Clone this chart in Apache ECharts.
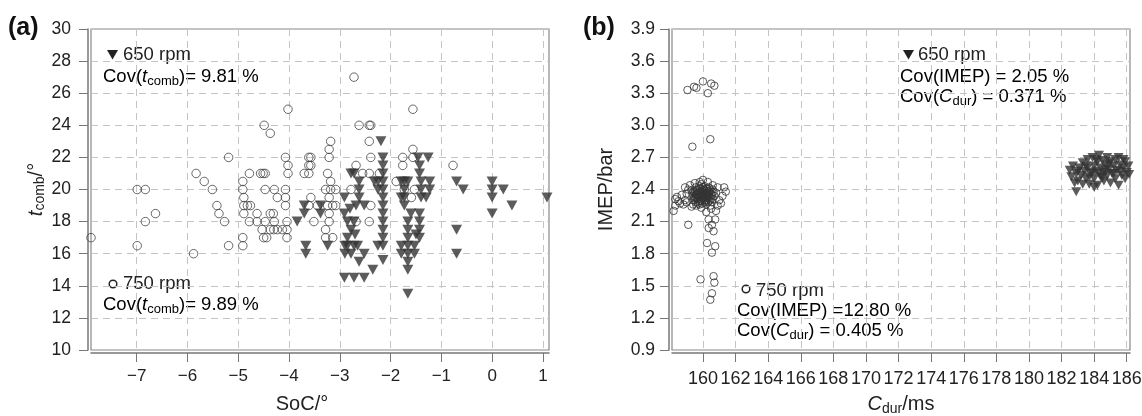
<!DOCTYPE html>
<html><head><meta charset="utf-8">
<script src="https://cdn.jsdelivr.net/npm/echarts@6/dist/echarts.min.js"></script>
<style>html,body{margin:0;padding:0;background:#fff}#c{width:1142px;height:416px}</style>
</head><body><div id="c"></div>
<script>
// ---------- Panel (a): SoC vs t_comb ----------
const socTicks = [-7, -6, -5, -4, -3, -2, -1, 0, 1];
const tcombTicks = [10, 12, 14, 16, 18, 20, 22, 24, 26, 28, 30];
const left750 = [
  [-7.9,17],[-6.99,20],[-6.83,20],[-6.63,18.5],[-6.83,18],[-6.99,16.5],[-5.88,16],
  [-5.83,21],[-5.67,20.5],[-5.51,20],[-5.19,22],[-5.42,19],[-5.38,18.5],[-5.27,18],[-5.19,16.5],
  [-4.91,20.5],[-4.91,20],[-4.78,21],[-4.56,21],[-4.51,21],[-4.47,21],[-4.89,19.5],[-4.89,19],[-4.82,19],
  [-4.76,19],[-4.89,18.5],[-4.63,18.5],[-4.47,20],[-4.29,20],[-4.23,19.5],[-4.07,20],[-4.07,19.5],[-4.07,19],
  [-4.37,18.5],[-4.31,18.5],[-4.78,18],[-4.63,18],[-4.47,18],[-4.29,18],[-4.04,18],[-4.53,17.5],[-4.37,17.5],
  [-4.3,17.5],[-4.23,17.5],[-4.13,17.5],[-4.04,17.5],[-4.5,17],[-4.44,17],[-4.04,17],[-4.91,17],[-4.91,16.5],
  [-4.02,25],[-4.49,24],[-4.37,23.5],[-4.07,22],[-4.02,21.5],[-4.02,21],
  [-3.7,21],[-3.61,21],[-3.61,21.5],[-3.61,22],[-3.57,22],[-3.57,21.5],[-3.24,21],[-3.18,20.5],[-3.28,20],
  [-3.18,20],[-3.08,20],[-3.57,19.5],[-3.21,19.5],[-3.61,19],[-3.44,19],[-3.24,19],[-3.14,19],[-3.08,19],
  [-3.21,18.5],[-3.51,18],[-3.21,18],[-3.28,17.5],[-3.28,17],[-3.14,17],[-3.18,23],[-3.21,22.5],[-3.21,22],
  [-2.72,27],[-2.62,24],[-2.42,24],[-2.39,24],[-2.42,23],[-2.68,21.5],[-2.55,21],[-2.42,21],[-2.22,21],
  [-2.39,22],[-2.78,20],[-2.39,19],[-2.42,18],[-2.68,18],
  [-1.56,25],[-1.89,20.5],[-1.76,22],[-1.76,21.5],[-1.56,22.5],[-1.56,22],[-1.73,20],[-1.53,20],[-1.59,19.5],
  [-0.77,21.5]
];
const left650 = [
  [-3.7,19],[-3.84,18],[-3.67,16.5],[-3.67,16],[-3.7,18.5],[-3.38,19],[-3.38,18.5],[-3.24,16.5],
  [-2.91,19.5],[-2.91,18.5],[-2.85,18],[-2.72,18],[-2.78,17.5],[-2.85,17],[-2.9,16.5],[-2.85,16.5],
  [-2.72,16.5],[-2.65,16.5],[-2.9,16],[-2.78,16],[-2.72,21],[-2.78,21],[-2.62,20.5],[-2.62,20],[-2.62,19.5],
  [-2.68,19],[-2.52,19],[-2.52,16],[-2.62,15.5],[-2.35,15],[-2.91,14.5],[-2.72,14.5],[-2.52,14.5],
  [-2.8,18.8],[-2.7,17.2],
  [-2.19,23],[-2.15,22],[-2.15,21.5],[-2.15,21],[-2.15,20.5],[-2.15,20],[-2.15,19.5],[-2.15,19],[-2.15,18.5],
  [-2.15,18],[-2.15,17.5],[-2.15,17],[-2.15,16.5],[-2.25,20.5],[-2.25,20],[-2.25,16.5],[-2.15,15.6],[-2.32,20.5],
  [-1.73,20.5],[-1.73,20],[-1.73,19.5],[-1.73,19],[-1.79,20.5],[-1.79,19.5],[-1.66,20.5],[-1.66,18],[-1.66,17.5],
  [-1.66,17],[-1.66,16.5],[-1.66,16],[-1.66,15.5],[-1.66,15],[-1.66,13.5],[-1.79,16.5],[-1.53,16.5],[-1.79,16],
  [-1.53,16],[-1.6,18.5],[-1.5,17.2],
  [-1.46,22],[-1.26,22],[-1.43,21.5],[-1.43,21],[-1.4,20.5],[-1.4,20],[-1.4,19.5],[-1.23,20.5],[-1.23,20],
  [-1.43,18.5],[-1.43,18],[-1.43,17.5],[-1.43,17],[-1.3,19.5],
  [-0.7,20.5],[-0.57,20],[-0.7,17.5],[-0.7,16],[0,20.5],[0,20],[0,19.5],[0.22,20],[0.39,19],[0,18.5],[1.08,19.5]
];

// ---------- Panel (b): C_dur vs IMEP ----------
const cdurTicks = [160,162,164,166,168,170,172,174,176,178,180,182,184,186];
const imepTicks = [0.9,1.2,1.5,1.8,2.1,2.4,2.7,3.0,3.3,3.6,3.9];
const right750 = [
  [159.05,3.33],[159.45,3.36],[159.6,3.35],[160.0,3.41],[160.3,3.30],[160.5,3.39],[160.7,3.37],[159.35,2.80],[160.45,2.87],
  [159.1,2.07],[160.35,2.12],[160.55,2.07],[160.75,2.12],[160.35,2.04],[160.65,2.01],[160.25,1.90],[160.75,1.87],
  [160.55,1.81],[159.85,1.56],[160.65,1.59],[160.7,1.53],[160.55,1.43],[160.45,1.37],
  [158.2,2.2],[158.3,2.25],[158.5,2.29],[158.4,2.33],[158.7,2.35],[158.9,2.3],[158.6,2.27],[158.8,2.26],[159.0,2.28],[158.3,2.31],
  [158.9,2.42],[159.2,2.44],[159.5,2.46],[159.8,2.47],[160.0,2.49],[160.3,2.47],[160.6,2.44],[160.9,2.42],[161.4,2.38],
  [161.2,2.34],[161.0,2.3],[160.9,2.25],[160.8,2.2],[160.5,2.22],[160.2,2.19],[159.9,2.23],[159.6,2.25],[159.3,2.24],
  [161.1,2.27],[161.3,2.42],[159.0,2.36],[159.1,2.4],
  [159.4,2.30],[159.5,2.33],[159.6,2.36],[159.7,2.31],[159.8,2.34],[159.9,2.38],[160.0,2.32],[160.1,2.35],[160.2,2.30],
  [160.3,2.37],[160.4,2.33],[160.5,2.36],[160.6,2.31],[159.45,2.38],[159.55,2.28],[159.65,2.40],[159.75,2.29],
  [159.85,2.41],[159.95,2.27],[160.05,2.40],[160.15,2.28],[160.25,2.41],[160.35,2.29],[160.45,2.39],[160.55,2.28],
  [160.65,2.38],[159.35,2.34],[159.5,2.37],[159.7,2.35],[159.9,2.31],[160.1,2.39],[160.3,2.33],[160.5,2.32],
  [159.6,2.32],[159.8,2.38],[160.0,2.36],[160.2,2.34],[160.4,2.37],[159.75,2.43],[160.1,2.43],[160.35,2.42],
  [159.55,2.42],[159.9,2.45],[160.2,2.26],[159.8,2.26],[160.45,2.25],[159.4,2.26],[160.7,2.34],[159.3,2.39],[160.8,2.37],
  [159.45,2.32],[159.55,2.35],[159.65,2.33],[159.75,2.37],[159.85,2.30],[159.95,2.34],[160.05,2.37],[160.15,2.32],
  [160.25,2.36],[160.35,2.34],[160.45,2.30],[160.55,2.35],[159.6,2.39],[159.7,2.27],[159.8,2.41],[159.9,2.29],
  [160.0,2.42],[160.1,2.30],[160.2,2.39],[160.3,2.28],[160.4,2.41],[159.5,2.30],[160.6,2.40],[159.35,2.37],
  [159.65,2.36],[159.85,2.36],[160.05,2.33],[160.25,2.32],[160.15,2.36],[159.95,2.39],[159.75,2.33],[160.35,2.38]
];
const right650 = [
  [182.5,2.58],[182.6,2.52],[182.7,2.62],[182.9,2.55],[182.9,2.38],[183.0,2.48],[183.1,2.6],[183.2,2.53],[183.3,2.65],
  [183.4,2.57],[183.5,2.5],[183.6,2.68],[183.6,2.6],[183.7,2.45],[183.8,2.55],[183.9,2.7],[184.0,2.62],[184.0,2.5],
  [184.1,2.57],[184.2,2.66],[184.2,2.44],[184.3,2.72],[184.4,2.6],[184.4,2.52],[184.5,2.67],[184.6,2.56],[184.6,2.48],
  [184.7,2.63],[184.8,2.7],[184.8,2.53],[184.9,2.59],[185.0,2.66],[185.0,2.46],[185.1,2.55],[185.2,2.62],[185.3,2.5],
  [185.3,2.68],[185.4,2.58],[185.5,2.7],[185.5,2.44],[185.6,2.63],[185.7,2.53],[185.8,2.6],[185.9,2.66],[185.9,2.5],
  [186.0,2.56],[186.1,2.62],[186.15,2.54],[183.3,2.45],[184.0,2.42],[182.8,2.46],[183.9,2.56],[184.9,2.64],[185.6,2.57],[184.3,2.55],
  [183.0,2.57],[183.5,2.62],[184.1,2.68],[184.7,2.58],[185.2,2.55],[185.8,2.68],[183.7,2.52],[184.5,2.51]
];

const FONT = '"Liberation Sans", Arial, Helvetica, sans-serif';
const TXT = '#222';
const AX = '#777';

function fmtNum(v, dec) {
  const s = Math.abs(v).toFixed(dec);
  return (v < -1e-9 ? '\u2212' : '') + s;
}
function onTicks(ticks, dec) {
  return function (v) {
    for (const t of ticks) if (Math.abs(t - v) < 1e-6) return fmtNum(t, dec);
    return '';
  };
}

const rich = {
  n: { fontSize: 18.5, fontFamily: FONT, color: TXT, lineHeight: 21 },
  i: { fontSize: 18.5, fontFamily: FONT, color: TXT, fontStyle: 'italic', lineHeight: 21 },
  s: { fontSize: 13, fontFamily: FONT, color: TXT, lineHeight: 7, verticalAlign: 'bottom' }
};
const richName = {
  n: { fontSize: 20, fontFamily: FONT, color: TXT, lineHeight: 23 },
  i: { fontSize: 20, fontFamily: FONT, color: TXT, fontStyle: 'italic', lineHeight: 23 },
  s: { fontSize: 14, fontFamily: FONT, color: TXT, lineHeight: 8, verticalAlign: 'bottom' }
};

function xAxisCfg(grid, min, max, ticks, name, margin, fs, namePad) {
  return {
    gridIndex: grid, type: 'value', min: min, max: max, offset: 3,
    axisLine: { show: true, onZero: false, lineStyle: { color: AX, width: 1.5 } },
    axisTick: { show: true, length: 9, customValues: ticks, lineStyle: { color: AX, width: 1 } },
    axisLabel: { fontSize: fs, fontFamily: FONT, color: TXT, margin: margin, customValues: ticks, hideOverlap: false,
                 formatter: onTicks(ticks, 0) },
    splitLine: { show: true, lineStyle: { color: '#c4c4c4', type: [7, 5], width: 1 } },
    name: name, nameLocation: 'middle', nameGap: 40,
    nameTextStyle: { fontSize: 20, fontFamily: FONT, color: TXT, rich: richName, padding: namePad }
  };
}
function yAxisCfg(grid, min, max, interval, ticks, dec, name, gap, margin) {
  return {
    gridIndex: grid, type: 'value', min: min, max: max, interval: interval, offset: 3,
    axisLine: { show: true, onZero: false, lineStyle: { color: AX, width: 1.5 } },
    axisTick: { show: true, length: 9, lineStyle: { color: AX, width: 1 } },
    axisLabel: { fontSize: 17.5, fontFamily: FONT, color: TXT, margin: margin, formatter: onTicks(ticks, dec) },
    splitLine: { show: true, lineStyle: { color: '#c4c4c4', type: [7, 5], width: 1 } },
    name: name, nameLocation: 'middle', nameGap: gap, nameRotate: 90,
    nameTextStyle: { fontSize: 20, fontFamily: FONT, color: TXT, rich: richName }
  };
}

const option = {
  animation: false,
  backgroundColor: '#fff',
  grid: [
    { left: 91, right: 1142 - 549, top: 29, bottom: 416 - 350, show: true, borderColor: '#888', borderWidth: 1.2,
      containLabel: false, outerBoundsMode: 'none' },
    { left: 672, right: 1142 - 1130, top: 29, bottom: 416 - 350, show: true, borderColor: '#888', borderWidth: 1.2,
      containLabel: false, outerBoundsMode: 'none' }
  ],
  xAxis: [
    xAxisCfg(0, -7.9, 1.12, socTicks, '{n|SoC/°}', 15, 17, [0, 36, 0, 0]),
    xAxisCfg(1, 158.1, 186.2, cdurTicks, '{i|C}{s|dur}{n|/ms}', 17, 18, 0)
  ],
  yAxis: [
    yAxisCfg(0, 10, 30, 2, tcombTicks, 0, '{i|t}{s|comb}{n|/°}', 36, 17),
    yAxisCfg(1, 0.9, 3.9, 0.3, imepTicks, 1, '{n|IMEP/bar}', 51, 14)
  ],
  series: [
    { type: 'scatter', xAxisIndex: 0, yAxisIndex: 0, data: left750, symbol: 'circle', symbolSize: 8.5,
      itemStyle: { color: 'rgba(255,255,255,0)', borderColor: '#444', borderWidth: 1 } },
    { type: 'scatter', xAxisIndex: 0, yAxisIndex: 0, data: left650, symbol: 'triangle', symbolRotate: 180, symbolSize: [11, 10],
      itemStyle: { color: '#333' } },
    { type: 'scatter', xAxisIndex: 1, yAxisIndex: 1, data: right750, symbol: 'circle', symbolSize: 7.5,
      itemStyle: { color: 'rgba(255,255,255,0)', borderColor: '#333', borderWidth: 1 } },
    { type: 'scatter', xAxisIndex: 1, yAxisIndex: 1, data: right650, symbol: 'triangle', symbolRotate: 180, symbolSize: [10, 9],
      itemStyle: { color: '#333' } }
  ],
  graphic: [
    { type: 'text', x: 8, y: 28, style: { text: '(a)', font: 'bold 25px ' + FONT, fill: '#111', verticalAlign: 'middle' } },
    { type: 'text', x: 583, y: 28, style: { text: '(b)', font: 'bold 25px ' + FONT, fill: '#111', verticalAlign: 'middle' } },
    // panel a annotations
    { type: 'polygon', shape: { points: [[107, 50], [118, 50], [112.5, 59.5]] }, style: { fill: '#222' } },
    { type: 'text', x: 123, y: 55, style: { text: '650 rpm', font: '18.5px ' + FONT, fill: TXT, verticalAlign: 'middle' } },
    { type: 'text', x: 103, y: 77, style: { text: '{n|Cov(}{i|t}{s|comb}{n|)= 9.81 %}', rich: rich, verticalAlign: 'middle' } },
    { type: 'circle', shape: { cx: 113, cy: 284, r: 3.8 }, style: { fill: 'none', stroke: '#222', lineWidth: 1.5 } },
    { type: 'text', x: 123, y: 284, style: { text: '750 rpm', font: '18.5px ' + FONT, fill: TXT, verticalAlign: 'middle' } },
    { type: 'text', x: 103, y: 305, style: { text: '{n|Cov(}{i|t}{s|comb}{n|)= 9.89 %}', rich: rich, verticalAlign: 'middle' } },
    // panel b annotations
    { type: 'polygon', shape: { points: [[903, 50], [914, 50], [908.5, 59.5]] }, style: { fill: '#222' } },
    { type: 'text', x: 918, y: 55, style: { text: '650 rpm', font: '18.5px ' + FONT, fill: TXT, verticalAlign: 'middle' } },
    { type: 'text', x: 900, y: 77, style: { text: '{n|Cov(IMEP) = 2.05 %}', rich: rich, verticalAlign: 'middle' } },
    { type: 'text', x: 900, y: 97, style: { text: '{n|Cov(}{i|C}{s|dur}{n|) = 0.371 %}', rich: rich, verticalAlign: 'middle' } },
    { type: 'circle', shape: { cx: 746, cy: 289, r: 3.8 }, style: { fill: 'none', stroke: '#222', lineWidth: 1.5 } },
    { type: 'text', x: 756, y: 291, style: { text: '750 rpm', font: '18.5px ' + FONT, fill: TXT, verticalAlign: 'middle' } },
    { type: 'text', x: 737, y: 311, style: { text: '{n|Cov(IMEP) =12.80 %}', rich: rich, verticalAlign: 'middle' } },
    { type: 'text', x: 737, y: 331, style: { text: '{n|Cov(}{i|C}{s|dur}{n|) = 0.405 %}', rich: rich, verticalAlign: 'middle' } }
  ]
};
const chart = echarts.init(document.getElementById('c'), null, { renderer: 'canvas' });
chart.setOption(option);
</script>
</body></html>
